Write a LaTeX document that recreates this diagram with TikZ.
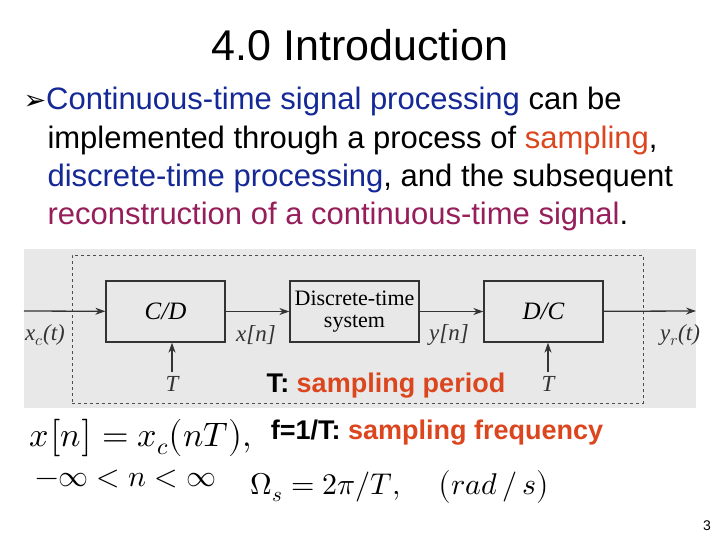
\documentclass[tikz,border=0pt]{standalone}
\usepackage{unicode-math}
\setmainfont{Liberation Sans}
\newfontfamily\serifz{Liberation Serif}
\newfontfamily\dejavu{DejaVu Sans}
\usetikzlibrary{arrows.meta}
\definecolor{tblue}{RGB}{20,40,150}
\definecolor{tred}{RGB}{220,70,30}
\definecolor{tpurp}{RGB}{150,30,90}
\definecolor{bg}{RGB}{232,232,232}
\begin{document}
\begin{tikzpicture}[x=1pt,y=-1pt,
  blk/.style={draw=black!80,line width=1.3pt,fill=bg,minimum width=119pt,minimum height=61pt,font=\serifz\fontsize{22}{21}\selectfont,align=center,inner sep=0pt},
  sig/.style={font=\serifz\itshape\fontsize{23}{24}\selectfont,text=black!80},
  arr/.style={-{Stealth[length=10pt,width=7pt]},line width=1.3pt,draw=black!80},
  line/.style={anchor=west,font=\fontsize{31}{34}\selectfont}]
\useasboundingbox (0,0) rectangle (720,540);
\fill[white] (0,0) rectangle (720,540);
\node (title) at (360,45) {\fontsize{43}{46}\selectfont 4.0 Introduction};
\node[line] (l1) at (20,101) {{\dejavu\fontsize{27}{30}\selectfont ➢}\textcolor{tblue}{Continuous-time signal processing} can be};
\node[line] (l2) at (44,140) {implemented through a process of \textcolor{tred}{sampling},};
\node[line] (l3) at (44,178) {\textcolor{tblue}{discrete-time processing}, and the subsequent};
\node[line] (l4) at (44,216) {\textcolor{tpurp}{reconstruction of a continuous-time signal}.};
\fill[bg] (24,249) rectangle (696,408);
\node[draw=black!70,dashed,line width=1pt,minimum width=571pt,minimum height=148pt,inner sep=0pt] (dash) at (357.5,329) {};
\node[blk,font=\serifz\itshape\fontsize{25}{26}\selectfont] (cd) at (165.5,311.5) {C/D};
\node[blk,minimum width=129pt] (dts) at (354.5,311.5) {Discrete-time\\[1pt]system};
\node[blk,font=\serifz\itshape\fontsize{25}{26}\selectfont] (dc) at (543.5,311.5) {D/C};
\coordinate (in) at (24,311);
\coordinate (out) at (696,311);
\coordinate (t1) at (172,372);
\coordinate (t2) at (548,372);
\draw[arr] (in) -- (cd);
\draw[arr] (cd) -- (dts);
\draw[arr] (dts) -- (dc);
\draw[arr] (dc) -- (out);
\draw[arr] (t1) -- (t1|-cd.south);
\draw[arr] (t2) -- (t2|-dc.south);
\node[sig] (xc) at (45,335) {x$_c$(t)};
\node[sig] (xn) at (256,335) {x[n]};
\node[sig] (yn) at (449,335) {y[n]};
\node[sig] (yr) at (680,335) {y$_r$(t)};
\node[sig] (T1) at (172,384) {T};
\node[sig] (T2) at (548,384) {T};
\node (tsp) at (386,386) {\fontsize{27}{28}\selectfont\bfseries T: \textcolor{tred}{sampling period}};
\node (eq1) at (141,438) {\fontsize{34}{38}\selectfont $x\big[n\big]=x_c\big(nT\big),$};
\node (eq2) at (126,479) {\fontsize{30}{34}\selectfont $-\infty<n<\infty$};
\node (fs) at (437,433) {\fontsize{27}{28}\selectfont\bfseries f=1/T: \textcolor{tred}{sampling frequency}};
\node (om) at (326,487) {\fontsize{30}{34}\selectfont $\Omega_s=2\pi/T,$};
\node (rs) at (494,487) {\fontsize{30}{34}\selectfont $\big(rad\,/\,s\big)$};
\node (pg) at (707,526) {\fontsize{14}{15}\selectfont 3};
\end{tikzpicture}
\end{document}
